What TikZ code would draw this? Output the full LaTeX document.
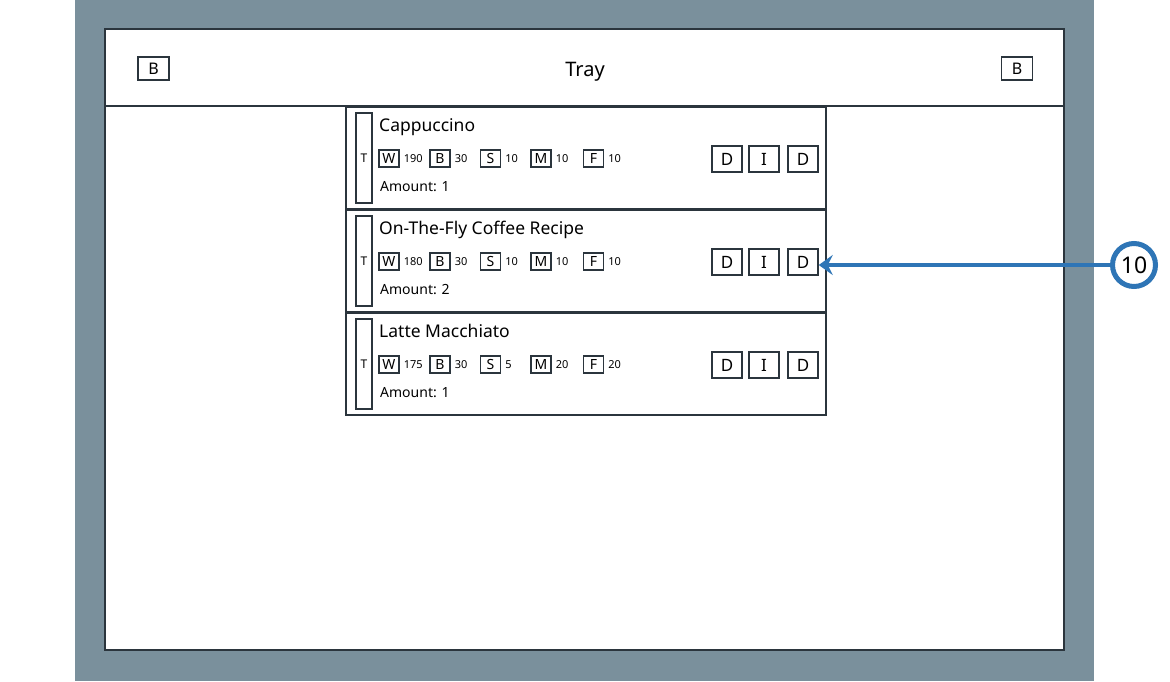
\documentclass[tikz,border=0pt]{standalone}
\usepackage{fontspec}
\setmainfont{Noto Sans}
\usetikzlibrary{positioning, arrows.meta}

\definecolor{bggray}{HTML}{7A909C}
\definecolor{framegray}{HTML}{2B353D}
\definecolor{callblue}{HTML}{2E75B6}

\begin{document}
\begin{tikzpicture}[x=1pt, y=-1pt,
  panel/.style={draw=framegray, line width=2pt, fill=white},
  itembox/.style={draw=framegray, line width=1.5pt, minimum width=480pt, minimum height=102pt, inner sep=0pt},
  tbar/.style={draw=framegray, line width=1.5pt, minimum width=16pt, minimum height=90pt, inner sep=0pt, font=\fontsize{12}{12}\selectfont},
  tag/.style={draw=framegray, line width=1.2pt, minimum width=20pt, minimum height=17pt, inner sep=0pt, font=\fontsize{14}{14}\selectfont},
  qty/.style={inner sep=0pt, font=\fontsize{11}{11}\selectfont},
  btn/.style={draw=framegray, line width=1.5pt, minimum width=30pt, minimum height=26pt, inner sep=0pt, font=\fontsize{17}{17}\selectfont},
  hbtn/.style={draw=framegray, line width=1.2pt, minimum width=31pt, minimum height=23pt, inner sep=0pt, font=\fontsize{16}{16}\selectfont},
  recipe/.style={anchor=base west, inner sep=0pt, font=\fontsize{17.5}{17.5}\selectfont},
  amount/.style={anchor=base west, inner sep=0pt, font=\fontsize{14}{14}\selectfont},
  callout/.style={circle, draw=callblue, line width=5pt, fill=white, minimum size=43pt, inner sep=0pt, font=\fontsize{23}{23}\selectfont},
]

\newcommand{\itemstep}{103}
\newcommand{\itemfirst}{107}

\useasboundingbox (0,0) rectangle (1170,681);
\fill [bggray] (75,0) rectangle (1094,681);
\draw [panel] (105,29) rectangle (1064,650);
\draw [framegray, line width=2pt] (105,106) -- (1064,106);

% header
\node [hbtn] (backL) at (153.5,68.5) {B};
\node [font=\fontsize{20}{20}\selectfont] (title) at (585,72) {Tray};
\node [hbtn] (backR) at (1017,68.5) {B};

\foreach \i/\name/\water/\sugar/\milk/\foam/\amount in {0/Cappuccino/190/10/10/10/1, 1/On-The-Fly Coffee Recipe/180/10/10/10/2, 2/Latte Macchiato/175/5/20/20/1}
{
\pgfmathsetmacro{\itemtop}{\itemfirst+\itemstep*\i}
\node [itembox] (item\i) at (586, \itemtop+51) {};
\node [tbar] (tbar\i) at (364, \itemtop+51) {T};
\node [recipe] (name\i) at (379, \itemtop+24) {\name};
\foreach \x/\lab/\val in {389/W/\water, 440/B/30, 490.5/S/\sugar, 541/M/\milk, 593.5/F/\foam}
{
\node [tag] (\lab\i) at (\x, \itemtop+51.5) {\lab};
\node [qty, right=4pt of \lab\i] (\lab val\i) {\val};
}
\node [amount] (amount\i) at (380, \itemtop+84) {Amount: \amount};
\node [btn] (btnA\i) at (727, \itemtop+52) {D};
\node [btn, right=5.5pt of btnA\i] (btnB\i) {I};
\node [btn, right=7.5pt of btnB\i] (btnC\i) {D};
}

% callout
\node [callout] (call10) at (1134,265) {10};
\draw [callblue, line width=4pt, -{Stealth[length=14pt, width=20pt, inset=5pt]}] (call10) -- (call10 -| btnC1.east);

\end{tikzpicture}
\end{document}
